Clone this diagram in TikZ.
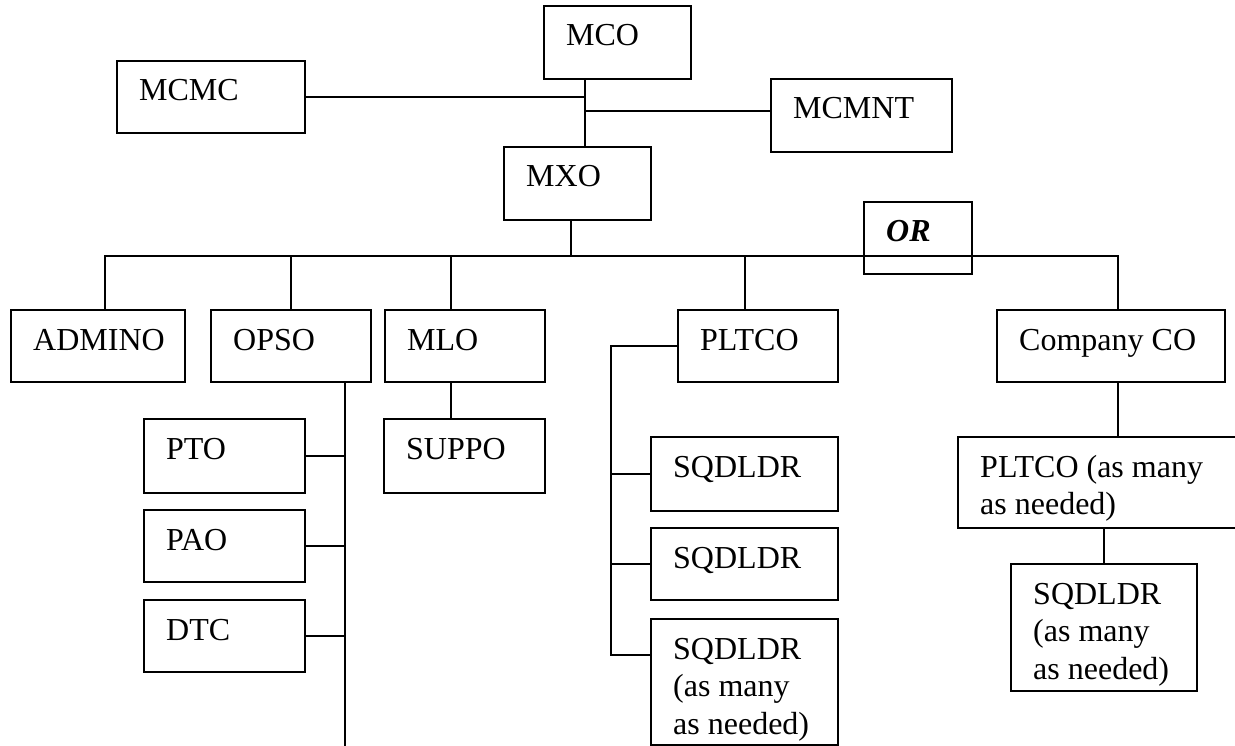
\documentclass[tikz,border=0pt]{standalone}
\usepackage{fontspec}
\setmainfont{Liberation Serif}
\tikzset{
  box/.style={draw, line width=2pt, rectangle, inner sep=0pt},
  lbl/.style={anchor=base west, inner sep=0pt, font=\fontsize{32}{37.5}\selectfont},
  conn/.style={line width=2pt},
}
\newcommand\bx[6]{%
  \node[box, minimum width={#4-#2}, minimum height={#5-#3}] (#1) at ({(#2+#4)/2},{(#3+#5)/2}) {};
  \node[lbl] (#1-t) at ({#2+22},{#3+40}) {\parbox[t]{10cm}{\raggedright #6}};
}
\begin{document}
\begin{tikzpicture}[x=1pt,y=-1pt]
\useasboundingbox (0,0) rectangle (1235,746);
\bx{MCMC}{117}{61}{305}{133}{MCMC}
\bx{MCO}{544}{6}{691}{79}{MCO}
\bx{MCMNT}{771}{79}{952}{152}{MCMNT}
\bx{MXO}{504}{147}{651}{220}{MXO}
\bx{OR}{864}{202}{972}{274}{\textbf{\textit{OR}}}
\bx{ADMINO}{11}{310}{185}{382}{ADMINO}
\bx{OPSO}{211}{310}{371}{382}{OPSO}
\bx{MLO}{385}{310}{545}{382}{MLO}
\bx{PLTCO}{678}{310}{838}{382}{PLTCO}
\bx{CO}{997}{310}{1225}{382}{Company CO}
\bx{PTO}{144}{419}{305}{493}{PTO}
\bx{PAO}{144}{510}{305}{582}{PAO}
\bx{DTC}{144}{600}{305}{672}{DTC}
\bx{SUPPO}{384}{419}{545}{493}{SUPPO}
\bx{SQa}{651}{437}{838}{511}{SQDLDR}
\bx{SQb}{651}{528}{838}{600}{SQDLDR}
\bx{SQc}{651}{619}{838}{745}{SQDLDR\\(as many\\as needed)}
\bx{PLT}{958}{437}{1245}{528}{PLTCO (as many\\as needed)}
\bx{SQd}{1011}{564}{1197}{691}{SQDLDR\\(as many\\as needed)}
% coordinates
\coordinate (sp) at (585,0);
\coordinate (jm) at (585,111);
\coordinate (bus) at (571,256);
\coordinate (d1) at (105,256);
\coordinate (d2) at (291,256);
\coordinate (d3) at (451,256);
\coordinate (d4) at (745,256);
\coordinate (d5) at (1118,256);
\coordinate (ov) at (345,746);
\coordinate (pl3) at (611,655);
\coordinate (pq) at (1104,0);
% connectors
\draw[conn] (MCO.south -| sp) -- (MXO.north -| sp);
\draw[conn] (MCMC.east) -- (MCMC.east -| sp);
\draw[conn] (jm) -- (MCMNT.west |- jm);
\draw[conn] (MXO.south -| bus) -- (bus);
\draw[conn] (ADMINO.north -| d1) -- (d1) -- (d5) -- (CO.north -| d5);
\draw[conn] (d2) -- (OPSO.north -| d2);
\draw[conn] (d3) -- (MLO.north -| d3);
\draw[conn] (d4) -- (PLTCO.north -| d4);
\draw[conn] (OPSO.south -| ov) -- (ov);
\draw[conn] (PTO.east) -- (PTO.east -| ov);
\draw[conn] (PAO.east) -- (PAO.east -| ov);
\draw[conn] (DTC.east) -- (DTC.east -| ov);
\draw[conn] (MLO.south -| d3) -- (SUPPO.north -| d3);
\draw[conn] (PLTCO.west) -| (pl3) -- (SQc.west |- pl3);
\draw[conn] (SQa.west) -- (SQa.west -| pl3);
\draw[conn] (SQb.west) -- (SQb.west -| pl3);
\draw[conn] (CO.south -| d5) -- (PLT.north -| d5);
\draw[conn] (PLT.south -| pq) -- (SQd.north -| pq);
\end{tikzpicture}
\end{document}
